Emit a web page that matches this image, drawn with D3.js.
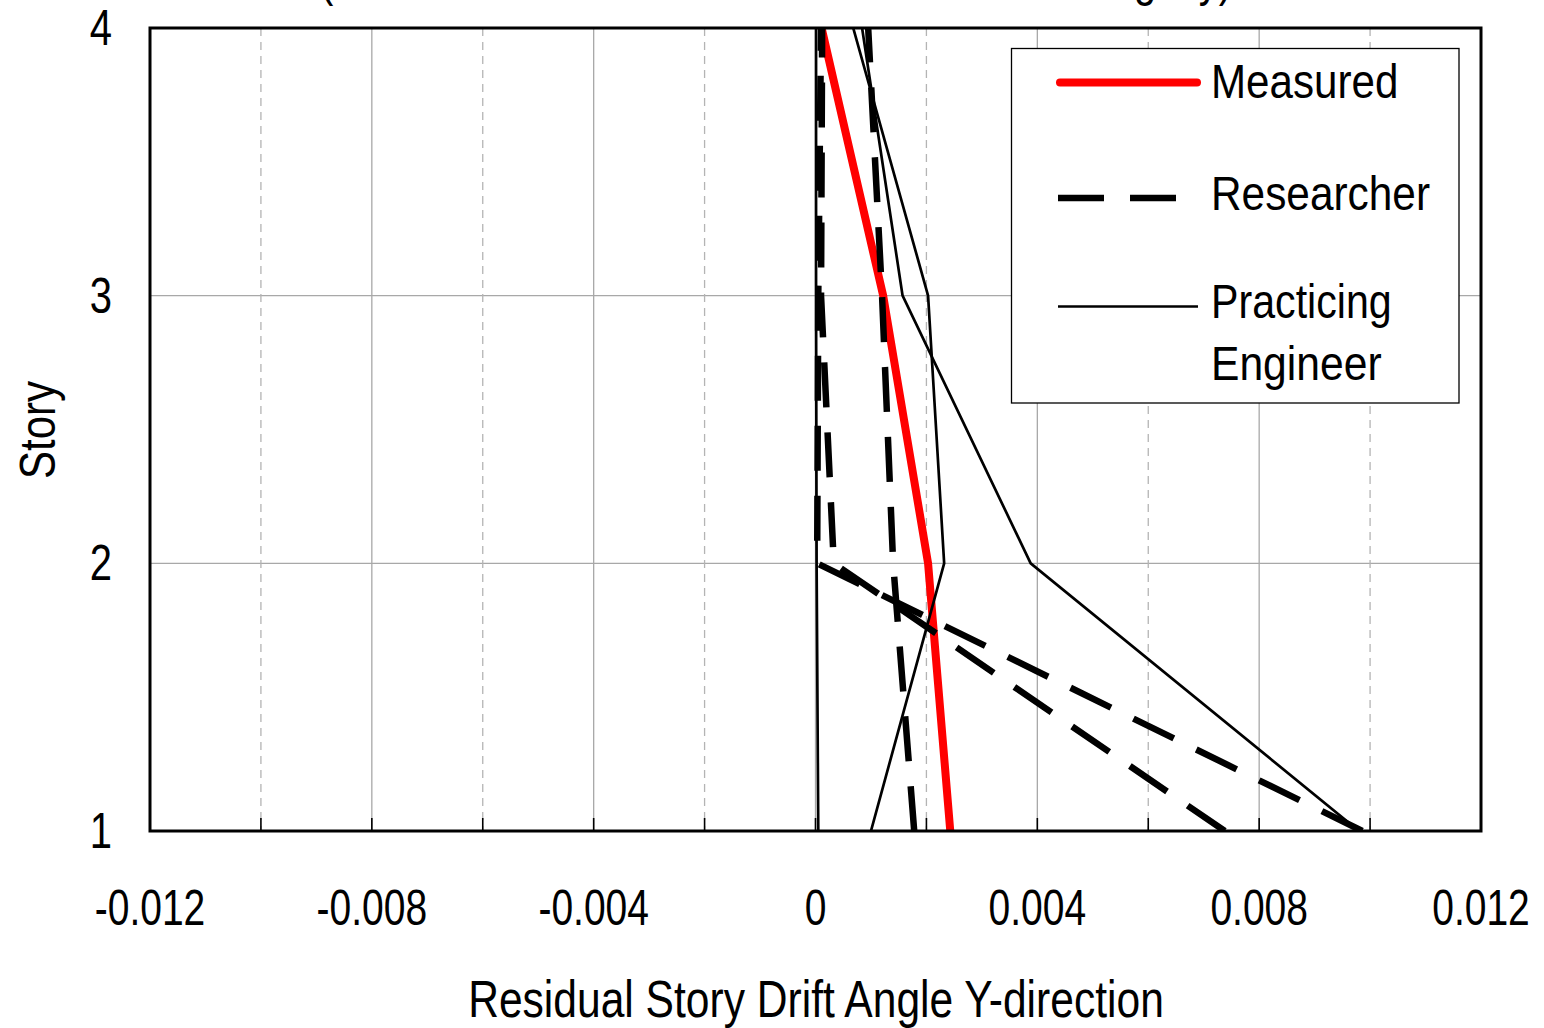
<!DOCTYPE html>
<html>
<head>
<meta charset="utf-8">
<script src="https://cdn.jsdelivr.net/npm/d3@7"></script>
<style>
  html, body { margin: 0; padding: 0; background: #fff; }
  svg { display: block; }
  text { font-family: 'Liberation Sans', Arial, sans-serif; fill: #000; }
</style>
</head>
<body>
<svg id="chart" width="1544" height="1028"></svg>
<script>
// ---- data ----
const stories = [1, 2, 3, 4];
const xTickValues = [-0.012, -0.008, -0.004, 0, 0.004, 0.008, 0.012];
const xTickLabels = ["-0.012", "-0.008", "-0.004", "0", "0.004", "0.008", "0.012"];
const xMinorGrid = [-0.010, -0.006, -0.002, 0.002, 0.006, 0.010];
const yTickValues = [1, 2, 3, 4];
const legendLabels = ["Measured", "Researcher", ["Practicing", "Engineer"]];

// residual drift per story (story 1..4)
const measured = [0.00243, 0.00203, 0.00122, 0.00011];
const researcher1 = [0.00178, 0.00140, 0.00120, 0.00095];
const researcher2 = [0.00738, 0.00033, 0.00010, 0.00012];
const researcher3 = [0.00986, 0.00003, 0.00005, 0.00010];
const practicing1 = [0.00005, 0.00002, 0.00001, 0.00001];
const practicing2 = [0.00980, 0.00388, 0.00157, 0.00084];
const practicing3 = [0.00100, 0.00232, 0.00203, 0.00068];

const svg = d3.select("#chart");
const m = { left: 150, right: 1481, top: 28, bottom: 831 };

const x = d3.scaleLinear().domain([-0.012, 0.012]).range([m.left, m.right]);
const y = d3.scaleLinear().domain([1, 4]).range([m.bottom, m.top]);

// condensed text helper (narrow face emulated by horizontal scaling)
function ntext(parent, tx, ty, str, size, sx, anchor, rot) {
  const g = parent.append("g")
    .attr("transform", `translate(${tx},${ty})` + (rot ? ` rotate(${rot})` : "") + ` scale(${sx},1)`);
  g.append("text").attr("x", 0).attr("y", 0).attr("font-size", size)
    .attr("text-anchor", anchor || "start").text(str);
  return g;
}

// clipped title remnants at the very top (only descenders visible in the reference)
ntext(svg, 320, -4, "(", 50, 0.8, "start");
ntext(svg, 1134, -4, "g", 50, 0.8, "start");
ntext(svg, 1232, -4, "y)", 50, 0.8, "end");

// gridlines
const grid = svg.append("g");
grid.selectAll("line.hmaj").data([2, 3]).join("line")
  .attr("x1", m.left).attr("x2", m.right)
  .attr("y1", d => y(d)).attr("y2", d => y(d))
  .attr("stroke", "#a8a8a8").attr("stroke-width", 1.3);
grid.selectAll("line.vmaj").data(xTickValues.slice(1, -1)).join("line")
  .attr("x1", d => x(d)).attr("x2", d => x(d))
  .attr("y1", m.top).attr("y2", m.bottom)
  .attr("stroke", "#a8a8a8").attr("stroke-width", 1.3);
grid.selectAll("line.vmin").data(xMinorGrid).join("line")
  .attr("x1", d => x(d)).attr("x2", d => x(d))
  .attr("y1", m.top).attr("y2", m.bottom)
  .attr("stroke", "#b4b4b4").attr("stroke-width", 1.3)
  .attr("stroke-dasharray", "8,6");

// x axis inside ticks
const allTicks = d3.range(-0.012, 0.01201, 0.002);
svg.append("g").selectAll("line").data(allTicks).join("line")
  .attr("x1", d => x(d)).attr("x2", d => x(d))
  .attr("y1", m.bottom).attr("y2", m.bottom - 13)
  .attr("stroke", "#000").attr("stroke-width", 1.6);

// clip
svg.append("clipPath").attr("id", "plotclip").append("rect")
  .attr("x", m.left).attr("y", m.top).attr("width", m.right - m.left).attr("height", m.bottom - m.top);

const line = d3.line().x(d => x(d[0])).y(d => y(d[1]));
const toPts = arr => arr.map((v, i) => [v, stories[i]]);

const plot = svg.append("g").attr("clip-path", "url(#plotclip)");

plot.append("path").datum(toPts(measured)).attr("d", line)
  .attr("fill", "none").attr("stroke", "#ff0000").attr("stroke-width", 8)
  .attr("stroke-linejoin", "round");

[practicing1, practicing2, practicing3].forEach(s => {
  plot.append("path").datum(toPts(s)).attr("d", line)
    .attr("fill", "none").attr("stroke", "#000").attr("stroke-width", 2.7)
    .attr("stroke-linejoin", "miter");
});

[researcher1, researcher2, researcher3].forEach(s => {
  plot.append("path").datum(toPts(s)).attr("d", line)
    .attr("fill", "none").attr("stroke", "#000").attr("stroke-width", 6.5)
    .attr("stroke-dasharray", "45,25").attr("stroke-linecap", "butt");
});

// frame
svg.append("rect").attr("x", m.left).attr("y", m.top)
  .attr("width", m.right - m.left).attr("height", m.bottom - m.top)
  .attr("fill", "none").attr("stroke", "#000").attr("stroke-width", 3);

// x tick labels
const xl = svg.append("g");
xTickValues.forEach((d, i) => ntext(xl, x(d), 925, xTickLabels[i], 50, 0.78, "middle"));

// y tick labels
const yl = svg.append("g");
yTickValues.forEach(d => ntext(yl, 112, y(d) + 17, String(d), 50, 0.8, "end"));

// axis titles
ntext(svg, 816, 1017, "Residual Story Drift Angle Y-direction", 51, 0.835, "middle");
ntext(svg, 55, 430, "Story", 50, 0.84, "middle", -90);

// legend
const lg = svg.append("g");
lg.append("rect").attr("x", 1011.5).attr("y", 48.5).attr("width", 447.5).attr("height", 354.5)
  .attr("fill", "#fff").attr("stroke", "#000").attr("stroke-width", 1.3);
lg.append("line").attr("x1", 1060).attr("x2", 1197).attr("y1", 82.5).attr("y2", 82.5)
  .attr("stroke", "#ff0000").attr("stroke-width", 8).attr("stroke-linecap", "round");
lg.append("line").attr("x1", 1058).attr("x2", 1176).attr("y1", 198).attr("y2", 198)
  .attr("stroke", "#000").attr("stroke-width", 6.5).attr("stroke-dasharray", "46,26");
lg.append("line").attr("x1", 1058).attr("x2", 1198).attr("y1", 306.5).attr("y2", 306.5)
  .attr("stroke", "#000").attr("stroke-width", 2.7);
ntext(lg, 1211, 98, legendLabels[0], 49, 0.86, "start");
ntext(lg, 1211, 210, legendLabels[1], 49, 0.865, "start");
ntext(lg, 1211, 318, legendLabels[2][0], 49, 0.84, "start");
ntext(lg, 1211, 380, legendLabels[2][1], 49, 0.87, "start");
</script>
</body>
</html>
